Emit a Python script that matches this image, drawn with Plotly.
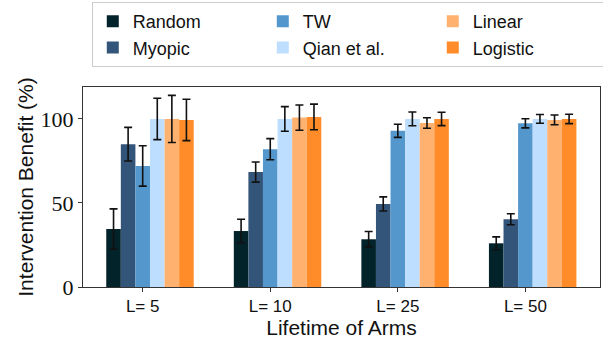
import plotly.graph_objects as go

categories = ["L= 5", "L= 10", "L= 25", "L= 50"]
series_names = ["Random", "Myopic", "TW", "Qian et al.", "Linear", "Logistic"]
colors = ["#03232a", "#34557a", "#5497cc", "#bddefe", "#ffb26f", "#ff8c29"]

random_vals = [34.5, 33.3, 28.4, 26.0]
random_err = [12.0, 7.0, 4.6, 3.8]
myopic_vals = [85.0, 68.4, 49.4, 40.3]
myopic_err = [10.0, 6.0, 4.2, 3.3]
tw_vals = [72.0, 82.0, 92.9, 97.4]
tw_err = [12.0, 6.3, 3.9, 2.7]
qian_vals = [100.0, 100.0, 100.0, 100.0]
qian_err = [12.3, 7.3, 4.1, 2.6]
linear_vals = [100.0, 100.8, 97.6, 99.4]
linear_err = [14.0, 7.5, 3.1, 2.9]
logistic_vals = [99.4, 101.2, 100.0, 100.0]
logistic_err = [12.3, 7.6, 4.0, 2.8]

values = [random_vals, myopic_vals, tw_vals, qian_vals, linear_vals, logistic_vals]
errors = [random_err, myopic_err, tw_err, qian_err, linear_err, logistic_err]
legend_ranks = [1, 4, 2, 5, 3, 6]  # column-major legend layout

bar_w = 0.8 / 7
xpos = list(range(len(categories)))

fig = go.Figure()
for i, name in enumerate(series_names):
    fig.add_trace(go.Bar(
        x=xpos, y=values[i], name=name,
        width=bar_w, offset=(i - 2.5) * bar_w,
        marker=dict(color=colors[i], line=dict(width=0)),
        error_y=dict(type="data", array=errors[i], color="#111111", thickness=1.6, width=4),
        legendrank=legend_ranks[i],
    ))

sans = "Liberation Sans, Arial, sans-serif"
serif = "Liberation Serif, DejaVu Serif, serif"

fig.update_layout(
    width=603, height=341,
    margin=dict(l=83, r=3, t=87, b=54, autoexpand=False),
    barmode="overlay",
    plot_bgcolor="white", paper_bgcolor="white",
    showlegend=True,
    legend=dict(
        orientation="h", x=0.017, y=1.425, xanchor="left", yanchor="top",
        entrywidth=125, entrywidthmode="pixels",
        bordercolor="#cccccc", borderwidth=1, bgcolor="white",
        font=dict(family=sans, size=18, color="#111111"),
        traceorder="normal",
    ),
    font=dict(family=sans, color="#111111"),
)
fig.update_xaxes(
    range=[-0.468, 3.585], automargin=False,
    tickmode="array", tickvals=xpos, ticktext=categories,
    tickfont=dict(family=sans, size=17, color="#111111"),
    ticks="outside", ticklen=4, tickcolor="#333333",
    showline=True, linecolor="#333333", linewidth=1, mirror=True,
    showgrid=False, zeroline=False,
    title=dict(text="Lifetime of Arms", font=dict(family=sans, size=21, color="#111111"), standoff=4),
)
fig.update_yaxes(
    range=[0, 119], automargin=False,
    tickmode="array", tickvals=[0, 50, 100],
    tickfont=dict(family=serif, size=22, color="#111111"),
    ticks="outside", ticklen=4, tickcolor="#333333",
    showline=True, linecolor="#333333", linewidth=1, mirror=True,
    showgrid=False, zeroline=False,
    title=dict(text="Intervention Benefit (%)", font=dict(family=sans, size=21, color="#111111"), standoff=1),
)

fig.write_html("out.html", config={"displayModeBar": False},
               post_script="document.body.style.margin='0';")
